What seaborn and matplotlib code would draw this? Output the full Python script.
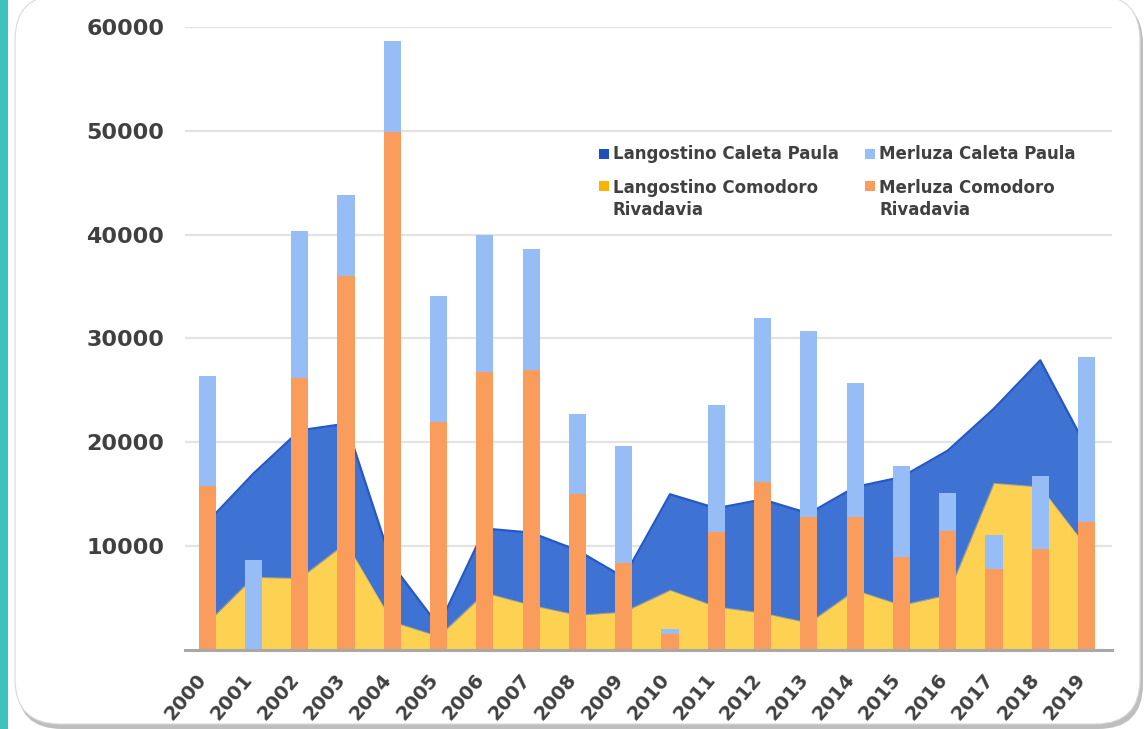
import numpy as np
import pandas as pd
import seaborn as sns
import matplotlib
matplotlib.use("Agg")
import matplotlib.pyplot as plt
import matplotlib.transforms as mtransforms
from matplotlib.patches import FancyBboxPatch, Rectangle, Patch
from matplotlib.legend_handler import HandlerPatch

# ---------------- data ----------------
years = [str(y) for y in range(2000, 2020)]
merluza_cr = [15800, 0, 26150, 36050, 49900, 22000, 26800, 27000, 15000, 8350,
              1550, 11350, 16150, 12800, 12800, 8950, 11450, 7800, 9700, 12300]
merluza_cp = [10600, 8650, 14250, 7800, 8750, 12100, 13200, 11650, 7700, 11250,
              450, 12200, 15850, 17900, 12950, 8750, 3650, 3250, 7050, 15950]
langostino_cr = [2600, 7000, 6900, 10300, 2700, 1300, 5500, 4300, 3350, 3650,
                 5750, 4150, 3550, 2600, 5750, 4300, 5300, 16050, 15700, 9900]
langostino_cp = [9700, 10000, 14250, 11500, 5500, 1000, 6200, 7000, 6250, 3350,
                 9250, 9500, 10950, 10550, 9950, 12350, 13900, 7200, 12200, 9600]
yticks = [10000, 20000, 30000, 40000, 50000, 60000]

labels = {
    "lcp": "Langostino Caleta Paula",
    "mcp": "Merluza Caleta Paula",
    "lcr": "Langostino Comodoro\nRivadavia",
    "mcr": "Merluza Comodoro\nRivadavia",
}

C_DARKBLUE = "#3E72D3"
C_DARKBLUE_EDGE = "#2458C4"
C_YELLOW = "#FDD151"
C_ORANGE = "#F99C5C"
C_LIGHTBLUE = "#97BDF6"
C_TEAL = "#3EC2BD"
TXT = "#404040"

df = pd.DataFrame({
    "year": years,
    "mcr": merluza_cr,
    "mcp": merluza_cp,
    "lcr": langostino_cr,
    "lcp": langostino_cp,
})
df["merluza_total"] = df["mcr"] + df["mcp"]
df["lang_total"] = df["lcr"] + df["lcp"]

sns.set_theme(style="white")
plt.rcParams["font.family"] = ["DejaVu Sans"]

W, H, DPI = 11.45, 7.29, 100
fig = plt.figure(figsize=(W, H), dpi=DPI)
fig.patch.set_facecolor("white")

# decoration: teal strip + rounded panel with shadow
fig.patches.append(Rectangle((0, 0), 0.075, H, transform=fig.dpi_scale_trans,
                             facecolor=C_TEAL, edgecolor="none", zorder=-3))
fig.patches.append(FancyBboxPatch((0.17, 0.0), 11.26, 7.3,
                                  boxstyle="round,pad=0,rounding_size=0.45",
                                  transform=fig.dpi_scale_trans,
                                  facecolor="#8a8a8a", edgecolor="none", alpha=0.55, zorder=-2))
fig.patches.append(FancyBboxPatch((0.15, 0.05), 11.25, 7.29,
                                  boxstyle="round,pad=0,rounding_size=0.45",
                                  transform=fig.dpi_scale_trans,
                                  facecolor="white", edgecolor="#d9d9d9", linewidth=0.8, zorder=-1))

ax = fig.add_axes([185 / 1145, 1 - 650 / 729, (1112 - 185) / 1145, (650 - 27) / 729])
ax.set_facecolor("none")
ax.set_zorder(2)

x = np.arange(len(years))
# stacked areas (langostino)
ax.fill_between(x, 0, df["lcr"], color=C_YELLOW, linewidth=0, zorder=1)
ax.fill_between(x, df["lcr"], df["lang_total"], color=C_DARKBLUE, linewidth=0, zorder=1)
ax.plot(x, df["lang_total"], color=C_DARKBLUE_EDGE, linewidth=1.6, zorder=1.5)
ax.plot(x, df["lcr"], color="#E9B93A", linewidth=0.8, zorder=1.5, alpha=0.6)

# stacked bars (merluza)
sns.barplot(data=df, x="year", y="merluza_total", color=C_LIGHTBLUE, width=0.37,
            saturation=1, ax=ax, zorder=2, linewidth=0)
sns.barplot(data=df, x="year", y="mcr", color=C_ORANGE, width=0.37,
            saturation=1, ax=ax, zorder=3, linewidth=0)

ax.set_xlim(-0.48, 19.55)
ax.set_ylim(0, 60000)
ax.set_yticks(yticks)
ax.set_yticklabels([str(v) for v in yticks], fontsize=16, color=TXT, fontweight="bold")
ax.yaxis.grid(True, color="#e3e3e3", linewidth=1.6, zorder=0)
ax.set_axisbelow(True)
ax.tick_params(axis="y", length=0, pad=15)
ax.tick_params(axis="x", length=0, pad=19)
ax.set_xticks(x)
ax.set_xticklabels(years, rotation=50, ha="right", va="center",
                   rotation_mode="anchor", fontsize=14, color=TXT, fontweight="bold")
shift = mtransforms.ScaledTranslation(-4 / 100, 0, fig.dpi_scale_trans)
for lbl in ax.get_xticklabels():
    lbl.set_transform(lbl.get_transform() + shift)
ax.set_xlabel("")
ax.set_ylabel("")
for s in ["top", "right", "left"]:
    ax.spines[s].set_visible(False)
ax.spines["bottom"].set_color("#a8a8a8")
ax.spines["bottom"].set_linewidth(2.2)
ax.spines["bottom"].set_zorder(5)


class SquareHandler(HandlerPatch):
    def __init__(self, dy=0.0):
        super().__init__()
        self.dy = dy

    def create_artists(self, legend, orig_handle, xdescent, ydescent,
                       width, height, fontsize, trans):
        side = min(width, height)
        p = Rectangle((-xdescent + (width - side) / 2, -ydescent + (height - side) / 2 - 1 + self.dy),
                      side, side, facecolor=orig_handle.get_facecolor(),
                      edgecolor="none", transform=trans)
        return [p]


h_lcp = Patch(facecolor="#1F4FB8", label=labels["lcp"])
h_lcr = Patch(facecolor="#F7B500", label=labels["lcr"])
h_mcp = Patch(facecolor=C_LIGHTBLUE, label=labels["mcp"])
h_mcr = Patch(facecolor=C_ORANGE, label=labels["mcr"])
handles = [h_lcp, h_lcr, h_mcp, h_mcr]
leg = ax.legend(handles=handles, ncol=2, loc="upper left",
                bbox_to_anchor=(0.43, 0.835), frameon=False,
                prop={"size": 12, "weight": "bold"},
                handlelength=0.6, handleheight=0.6, handletextpad=0.25,
                columnspacing=1.6, labelspacing=1.0,
                handler_map={h_lcp: SquareHandler(0), h_mcp: SquareHandler(0),
                             h_lcr: SquareHandler(11), h_mcr: SquareHandler(11)})
for t in leg.get_texts():
    t.set_color(TXT)
    t.set_linespacing(1.25)

fig.savefig("out.png", dpi=DPI, facecolor=fig.get_facecolor())
